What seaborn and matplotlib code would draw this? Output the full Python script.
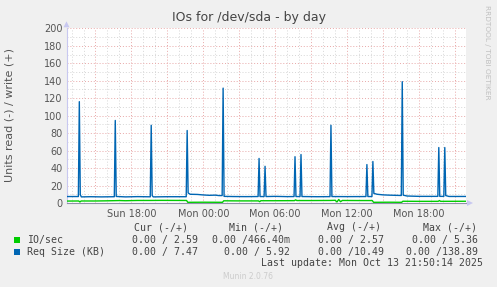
import numpy as np
import pandas as pd
import matplotlib
matplotlib.use("Agg")
import matplotlib.pyplot as plt
from matplotlib.patches import Rectangle, Polygon
import seaborn as sns

# ---- data (hours since Sun 00:00) ----
blue_t = [12.58, 13.57, 13.65, 13.73, 13.82, 14.6, 15.5, 16.57, 16.65, 16.73, 17.5, 18.5,
          19.57, 19.65, 19.73, 19.82, 21.0, 22.57, 22.65, 22.73, 22.9, 23.5, 24.0, 24.5,
          25.0, 25.3, 25.57, 25.65, 25.73, 26.5, 27.5, 28.57, 28.65, 28.73, 29.07, 29.15,
          29.23, 30.0, 31.0, 31.57, 31.65, 31.73, 32.07, 32.15, 32.23, 33.5, 34.57, 34.65,
          34.73, 36.0, 37.57, 37.65, 37.73, 38.07, 38.15, 38.23, 38.5, 39.0, 39.5, 40.0,
          40.52, 40.6, 40.68, 41.0, 42.0, 43.57, 43.65, 43.73, 44.07, 44.15, 44.23, 44.5, 45.92]
blue_v = [7.4, 7.4, 116, 9.5, 7.0, 7.2, 7.0, 7.2, 94.5, 7.5, 7.0, 7.3,
          7.1, 89, 8.5, 7.0, 7.2, 7.2, 83, 11.5, 10.0, 9.8, 9.2, 8.8,
          9.0, 8.5, 8.5, 131.5, 7.6, 7.4, 7.3, 7.4, 51, 7.4, 7.4, 42,
          7.4, 7.6, 7.3, 7.4, 53, 7.4, 7.4, 55.5, 7.4, 7.2, 7.3, 89,
          7.4, 7.3, 7.4, 44, 7.4, 7.4, 47.5, 11, 10, 9.3, 9.0, 8.8,
          8.6, 138.9, 9.0, 8.0, 7.6, 7.6, 63.5, 7.6, 7.6, 63.5, 8.5, 7.5, 7.5]

green_t = [12.58, 13.6, 13.7, 13.8, 15.0, 16.0, 17.0, 17.5, 18.5, 19.5, 20.5, 22.6, 22.7,
           24.0, 25.6, 25.7, 27.0, 28.6, 28.7, 28.8, 30.0, 31.6, 31.7, 31.8, 33.0, 34.6,
           35.0, 35.15, 35.3, 35.45, 35.6, 37.0, 38.1, 38.2, 39.5, 40.55, 40.65, 42.0,
           43.6, 43.7, 43.8, 45.92]
green_v = [2.2, 2.3, 1.2, 2.3, 2.3, 2.5, 2.8, 2.6, 2.9, 2.9, 3.0, 2.9, 0.8,
           0.9, 0.8, 2.5, 2.4, 2.4, 1.5, 2.6, 2.6, 2.7, 3.6, 2.8, 2.8, 2.9,
           3.1, 1.2, 4.0, 1.5, 2.9, 2.8, 2.8, 0.8, 0.9, 0.8, 2.0, 1.9,
           1.9, 2.8, 1.9, 2.0]

xtick_pos = [18, 24, 30, 36, 42]
xtick_labels = ["Sun 18:00", "Mon 00:00", "Mon 06:00", "Mon 12:00", "Mon 18:00"]
yticks = list(range(0, 201, 20))

series_names = ["IO/sec", "Req Size (KB)"]
cur_vals = ["0.00 / 2.59", "0.00 / 7.47"]
min_vals = ["0.00 /466.40m", "0.00 / 5.92"]
avg_vals = ["0.00 / 2.57", "0.00 /10.49"]
max_vals = ["0.00 / 5.36", "0.00 /138.89"]

GREEN = "#00CC00"
BLUE = "#0066B3"

sns.set_style("white")
plt.rcParams['font.family'] = ['DejaVu Sans']

W, H = 497, 287
fig = plt.figure(figsize=(W / 100, H / 100), dpi=100, facecolor="#F0F0F0")

def fx(x):
    return x / W

def fy(y):
    return 1 - y / H

ax_l, ax_r, ax_t, ax_b = 66.5, 466.0, 28.3, 203.0
ax = fig.add_axes([fx(ax_l), fy(ax_b), (ax_r - ax_l) / W, (ax_b - ax_t) / H])
ax.set_facecolor("white")

xmin, xmax = 12.58, 45.92
ax.set_xlim(xmin, xmax)
ax.set_ylim(0, 200)

# grid
for h in np.arange(13, 46, 1):
    major = (h % 3 == 0)
    ax.axvline(h, color="#E8A8A8" if major else "#D6D6D6", lw=0.7,
               ls=(0, (1, 2)), zorder=0.5)
for v in range(10, 201, 10):
    major = (v % 20 == 0)
    ax.axhline(v, color="#E8A8A8" if major else "#D6D6D6", lw=0.7,
               ls=(0, (1, 2)), zorder=0.5)

df_b = pd.DataFrame({"t": blue_t, "v": blue_v})
df_g = pd.DataFrame({"t": green_t, "v": green_v})
sns.lineplot(data=df_b, x="t", y="v", color=BLUE, lw=1.0, ax=ax, zorder=3)
sns.lineplot(data=df_g, x="t", y="v", color=GREEN, lw=1.0, ax=ax, zorder=4)

ax.set_xlabel("")
ax.set_ylabel("")
ax.set_xticks(xtick_pos)
ax.set_xticklabels(xtick_labels)
ax.set_yticks(yticks)
ax.tick_params(axis="both", labelsize=7, colors="#555555", length=0, pad=3)
ax.tick_params(axis="x", pad=4)
for sp in ["top", "right"]:
    ax.spines[sp].set_visible(False)
ax.spines["left"].set_color("#C8C8F0")
ax.spines["left"].set_linewidth(0.8)
ax.spines["bottom"].set_color("#9090A8")
ax.spines["bottom"].set_linewidth(0.8)

# axis arrows
fig.patches.append(Polygon([[fx(ax_l - 3), fy(ax_t - 1)], [fx(ax_l + 3), fy(ax_t - 1)],
                            [fx(ax_l), fy(ax_t - 7)]], closed=True, transform=fig.transFigure,
                           facecolor="#C8C8F0", edgecolor="none"))
fig.patches.append(Polygon([[fx(ax_r + 1), fy(ax_b - 3)], [fx(ax_r + 1), fy(ax_b + 3)],
                            [fx(ax_r + 7), fy(ax_b)]], closed=True, transform=fig.transFigure,
                           facecolor="#C8C8F0", edgecolor="none"))

# title and labels
fig.text(fx(249), fy(18), "IOs for /dev/sda - by day", ha="center", va="center",
         fontsize=9, color="#444444")
fig.text(fx(10), fy(115), "Units read (-) / write (+)", ha="center", va="center",
         rotation=90, fontsize=8, color="#555555")
fig.text(fx(487), fy(5), "RRDTOOL / TOBI OETIKER", ha="center", va="top",
         rotation=270, fontsize=5.3, color="#C0C0C0")

mono = dict(family="DejaVu Sans Mono", fontsize=7.1, color="#444444", va="center")
fig.text(fx(134), fy(227.5), "Cur (-/+)", ha="left", **mono)
fig.text(fx(229), fy(227.5), "Min (-/+)", ha="left", **mono)
fig.text(fx(327), fy(227.5), "Avg (-/+)", ha="left", **mono)
fig.text(fx(423), fy(227.5), "Max (-/+)", ha="left", **mono)

rows_y = [240, 251.7]
colors = [GREEN, BLUE]
for i in range(2):
    y = rows_y[i]
    fig.patches.append(Rectangle((fx(14), fy(y + 3)), 6 / W, 6 / H, transform=fig.transFigure,
                                 facecolor=colors[i], edgecolor="none"))
    fig.text(fx(26.7), fy(y), series_names[i], ha="left", **mono)
    fig.text(fx(197.5), fy(y), cur_vals[i], ha="right", **mono)
    fig.text(fx(290.5), fy(y), min_vals[i], ha="right", **mono)
    fig.text(fx(384), fy(y), avg_vals[i], ha="right", **mono)
    fig.text(fx(477.5), fy(y), max_vals[i], ha="right", **mono)

fig.text(fx(482.7), fy(263.3), "Last update: Mon Oct 13 21:50:14 2025", ha="right", **mono)
fig.text(fx(248), fy(276.7), "Munin 2.0.76", ha="center", va="center",
         fontsize=5.5, color="#CCCCCC")

fig.savefig("out.png", dpi=100, facecolor=fig.get_facecolor())
